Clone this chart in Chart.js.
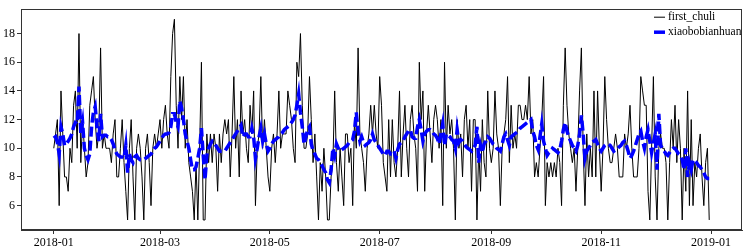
<!DOCTYPE html>
<html>
<head>
<meta charset="utf-8">
<script src="https://cdn.jsdelivr.net/npm/chart.js@4.4.1/dist/chart.umd.min.js"></script>
<style>
html,body{margin:0;padding:0;background:#fff;}
#wrap{width:751px;height:250px;position:relative;}
</style>
</head>
<body>
<div id="wrap"><canvas id="c" width="751" height="250"></canvas></div>
<script>
// Day index 0 = 2018-01-01 (daily series)
const startDate = '2018-01-01';
const firstChuli = [
10,11,12,6,14,11,8,8,7,10,
9,13,14,10,18,9,12,10,8,9,
13,14,15,12,10,11,17,10,11,10,
10,10,9,11,12,8,8,10,12,9,
7,5,10,12,8,5,10,11,10,8,
5,10,11,9,6,10,11,10,11,12,
10,12,13,11,10,15,18,19,13,10,
15,12,15,10,12,9,8,7,5,9,
5,10,16,5,5,11,9,11,9,11,
10,7,11,9,11,12,11,12,8,11,
15,10,12,8,14,11,12,10,9,13,
11,14,6,10,11,15,10,12,10,8,
7,10,11,9,11,14,10,11,11,11,
14,13,12,10,9,16,15,18,13,10,
10,11,15,12,9,11,8,5,9,7,
10,8,5,5,8,9,14,9,7,10,
8,6,11,11,9,10,6,12,10,17,
11,10,9,7,10,11,13,11,13,11,
10,15,13,9,8,7,12,8,12,9,
8,10,14,8,11,13,10,8,12,13,
11,10,7,16,12,14,7,11,13,11,
9,12,13,12,10,12,6,16,10,13,
11,12,10,5,12,10,11,8,12,13,
10,12,7,12,12,5,10,7,12,9,
8,14,10,9,10,14,11,10,6,10,
11,12,15,9,13,10,11,10,13,13,
12,12,13,12,15,11,12,8,9,8,
10,12,15,6,9,8,9,8,9,8,
10,9,6,13,17,13,11,10,9,10,
7,10,14,17,10,6,11,8,10,8,
14,8,14,10,7,10,15,12,10,9,
9,10,11,10,8,8,8,11,10,11,
13,10,8,8,8,10,15,14,13,13,
7,5,10,15,8,5,10,11,10,10,
9,5,9,12,10,13,9,12,10,5,
10,7,14,6,12,6,9,8,10,11,
8,6,9,10,5
];
const xiaobobianhuan = [
10.7,10.8,10.4,9.6,11.5,11.0,10.2,10.3,10.5,10.7,
11.0,11.5,11.8,11.7,14.3,11.0,11.8,10.0,9.5,9.2,
9.6,11.5,12.5,12.9,11.5,10.5,12.4,10.8,10.9,10.9,
10.8,10.8,10.6,10.3,9.9,9.6,9.5,9.4,9.4,9.3,
10.2,8.3,9.6,9.2,9.0,9.4,9.5,9.3,9.2,9.2,
9.2,9.3,9.4,9.5,9.6,9.8,10.0,10.1,10.3,10.5,
10.7,10.9,11.0,11.0,11.1,11.5,12.4,12.4,11.8,11.5,
13.3,12.8,12.0,11.0,10.5,10.0,9.2,8.5,8.5,8.7,
9.3,10.0,11.4,9.5,7.8,9.5,10.0,10.3,10.5,10.4,
10.2,10.0,9.8,9.8,9.8,9.8,10.0,10.2,10.4,10.6,
10.8,11.0,11.2,11.4,11.6,10.8,11.0,11.0,10.8,10.8,
11.4,10.8,9.3,10.0,10.8,11.4,10.5,11.0,10.3,9.8,
10.0,10.3,10.5,10.6,10.7,10.8,11.0,11.1,11.3,11.4,
11.5,11.6,11.8,12.0,12.3,13.0,13.8,12.5,11.5,10.3,
10.8,11.3,11.5,10.3,9.8,9.6,9.3,9.2,9.0,8.8,
8.5,8.3,7.8,7.6,8.5,10.0,9.5,10.3,10.0,9.8,
9.9,10.0,10.1,10.2,10.4,10.5,10.6,11.2,12.5,11.2,
10.5,10.8,10.4,10.2,10.3,10.4,10.6,11.0,10.6,10.4,
10.2,10.0,9.8,9.6,9.5,9.8,9.8,9.6,9.6,9.8,
9.3,9.9,10.3,10.4,10.5,10.8,11.0,11.2,11.3,10.8,
10.7,10.7,11.5,12.0,11.3,10.5,11.0,11.2,11.3,11.3,
11.2,11.0,10.9,10.7,10.3,11.0,11.7,10.2,11.0,10.9,
10.8,10.6,10.5,10.0,11.3,10.4,10.6,10.5,10.3,10.1,
10.0,9.9,9.8,10.0,10.2,11.5,9.0,10.2,9.7,10.3,
10.5,10.8,10.7,10.5,10.3,10.2,10.0,9.9,9.8,10.3,
10.8,11.0,10.6,10.2,10.8,10.9,11.0,11.1,11.2,11.4,
11.5,11.6,11.7,11.8,11.9,12.0,11.2,10.8,10.2,9.9,
10.8,11.7,10.5,10.0,9.5,9.7,9.8,10.0,9.9,9.8,
9.7,9.9,10.5,11.3,11.8,11.2,10.8,10.5,10.2,10.0,
9.8,10.2,11.0,12.3,11.0,9.3,9.8,10.0,10.2,10.4,
10.5,10.6,10.3,10.0,9.8,10.0,10.2,10.3,10.3,10.2,
10.0,9.8,9.9,10.0,10.1,10.2,10.4,10.5,10.2,9.8,
9.3,9.5,9.8,10.2,10.6,11.0,11.2,10.5,10.0,10.8,
11.3,10.5,9.7,10.4,11.0,8.5,12.4,10.2,10.0,9.8,
9.6,9.5,9.7,9.9,10.0,10.0,9.8,9.6,9.5,9.2,
8.5,10.0,8.0,9.0,8.5,9.2,9.1,9.0,8.8,8.7,
8.5,8.3,8.0,7.9,7.9
];
const tickDays = [0, 59, 120, 181, 243, 304, 365];
const tickLabels = ['2018-01','2018-03','2018-05','2018-07','2018-09','2018-11','2019-01'];
const yTicks = [6, 8, 10, 12, 14, 16, 18];
const seriesNames = ['first_chuli', 'xiaobobianhuan'];

const FONT = '"Liberation Serif", "Times New Roman", serif';
const SPINE = '#333333';

const framePlugin = {
  id: 'frame',
  afterDraw(chart) {
    const ctx = chart.ctx, a = chart.chartArea;
    ctx.save();
    ctx.strokeStyle = SPINE;
    ctx.lineWidth = 1;
    ctx.strokeRect(Math.round(a.left) + 0.5, Math.round(a.top) + 0.5,
                   Math.round(a.right - a.left) - 1, Math.round(a.bottom - a.top) - 1);
    // legend
    const ds = chart.data.datasets;
    const x0 = a.right - 88, y0 = a.top + 8, dy = 15;
    ctx.font = '11.5px ' + FONT;
    ctx.textBaseline = 'middle';
    ctx.textAlign = 'left';
    ds.forEach((d, i) => {
      const y = y0 + i * dy;
      ctx.beginPath();
      ctx.strokeStyle = d.borderColor;
      ctx.lineWidth = d.borderWidth;
      ctx.setLineDash([]);
      ctx.moveTo(x0, y);
      ctx.lineTo(x0 + 11, y);
      ctx.stroke();
      ctx.fillStyle = '#000';
      ctx.fillText(d.label, x0 + 14, y);
    });
    ctx.restore();
  }
};

new Chart(document.getElementById('c'), {
  type: 'line',
  data: {
    datasets: [
      {
        label: seriesNames[0],
        data: firstChuli.map((v, i) => ({ x: i, y: v })),
        borderColor: '#000000',
        borderWidth: 1,
        pointRadius: 0,
        tension: 0,
        order: 2
      },
      {
        label: seriesNames[1],
        data: xiaobobianhuan.map((v, i) => ({ x: i, y: v })),
        borderColor: '#0000ff',
        borderWidth: 3.5,
        borderDash: [10, 4],
        pointRadius: 0,
        tension: 0,
        order: 1
      }
    ]
  },
  options: {
    responsive: false,
    animation: false,
    events: [],
    layout: { padding: { top: 5, right: 9, left: 0, bottom: 0 } },
    plugins: { legend: { display: false }, tooltip: { enabled: false } },
    scales: {
      x: {
        type: 'linear',
        min: -18.2,
        max: 382.2,
        afterFit(s) { s.height = 20; },
        afterBuildTicks(s) { s.ticks = tickDays.map(v => ({ value: v })); },
        grid: { drawOnChartArea: false, drawTicks: true, tickLength: 4, color: SPINE, tickColor: SPINE },
        border: { display: true, color: SPINE, width: 1 },
        ticks: {
          autoSkip: false, maxRotation: 0, minRotation: 0, padding: 2,
          color: '#000', font: { family: FONT, size: 12 },
          callback: (v, i) => tickLabels[i]
        }
      },
      y: {
        type: 'linear',
        min: 4.3,
        max: 19.7,
        afterFit(s) { s.width = 21; },
        afterBuildTicks(s) { s.ticks = yTicks.map(v => ({ value: v })); },
        grid: { drawOnChartArea: false, drawTicks: true, tickLength: 4, color: SPINE, tickColor: SPINE },
        border: { display: true, color: SPINE, width: 1 },
        ticks: {
          padding: 2, color: '#000', font: { family: FONT, size: 12 },
          callback: v => String(v)
        }
      }
    }
  },
  plugins: [framePlugin]
});
</script>
</body>
</html>
